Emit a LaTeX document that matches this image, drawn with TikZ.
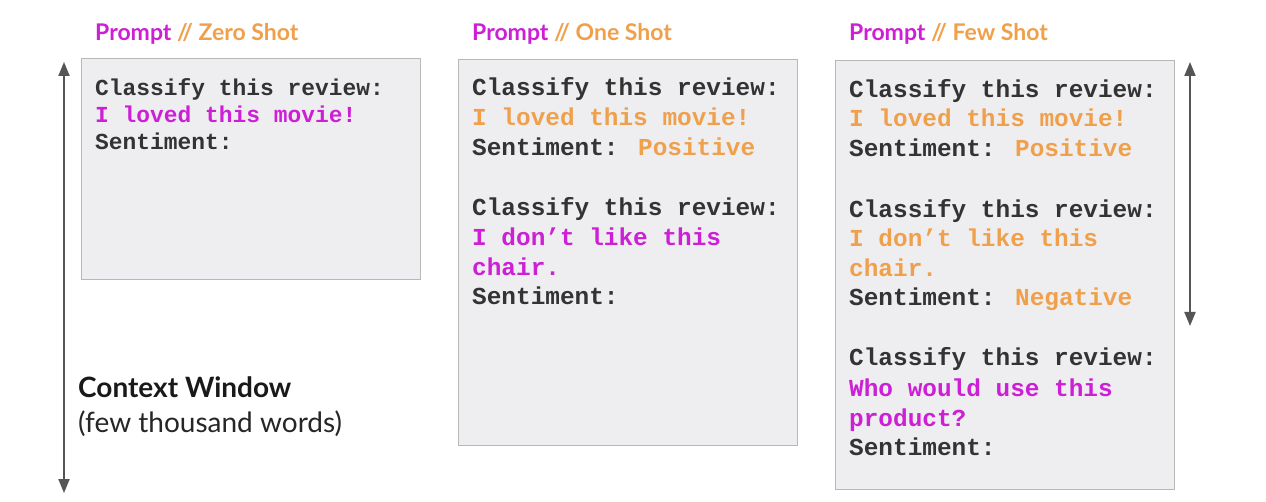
\documentclass[tikz,border=0pt]{standalone}
\usepackage{fontspec}
\setmainfont{Lato}
\newfontfamily\codefont{Liberation Mono}
\usetikzlibrary{arrows.meta}
\definecolor{mag}{HTML}{CC1FD6}
\definecolor{org}{HTML}{F0A04B}
\definecolor{boxfill}{HTML}{EEEEF0}
\definecolor{boxline}{HTML}{B8B8B8}
\definecolor{ink}{HTML}{333333}
\definecolor{arr}{HTML}{555555}
\tikzset{
  panel/.style={draw=boxline, line width=1.2pt, fill=boxfill},
  hdr/.style={anchor=base west, inner sep=0pt, font=\fontsize{23}{26}\selectfont\bfseries},
  codeA/.style={anchor=base west, inner sep=0pt, font=\codefont\bfseries\fontsize{22.9}{27}\selectfont, text=ink},
  codeB/.style={anchor=base west, inner sep=0pt, font=\codefont\bfseries\fontsize{24.4}{30}\selectfont, text=ink},
  bigarrow/.style={draw=arr, line width=2pt, {Triangle[length=14pt,width=11pt]}-{Triangle[length=14pt,width=11pt]}}
}
\begin{document}
\begin{tikzpicture}[x=1pt,y=-1pt]
\useasboundingbox[fill=white] (0,0) rectangle (1266,502);
% panels
\node[panel, minimum width=339pt, minimum height=221pt, anchor=north west, inner sep=0pt] (p1) at (81,58) {};
\node[panel, minimum width=339pt, minimum height=386pt, anchor=north west, inner sep=0pt] (p2) at (458,59) {};
\node[panel, minimum width=339pt, minimum height=429pt, anchor=north west, inner sep=0pt] (p3) at (835,60) {};
% headers
\node[hdr] (h1) at (95,41) {\textcolor{mag}{Prompt} \textcolor{org}{// Zero Shot}};
\node[hdr] (h2) at (472,41) {\textcolor{mag}{Prompt} \textcolor{org}{// One Shot}};
\node[hdr] (h3) at (849,41) {\textcolor{mag}{Prompt} \textcolor{org}{// Few Shot}};
% panel 1
\node[codeA] (a1) at (95,96) {Classify this review:};
\node[codeA, text=mag] (a2) at (95,123) {I loved this movie!};
\node[codeA] (a3) at (95,150) {Sentiment:};
% panel 2
\node[codeB] (b1) at (472,96) {Classify this review:};
\node[codeB, text=org] (b2) at (472,126) {I loved this movie!};
\node[codeB] (b3) at (472,156) {Sentiment: \textcolor{org}{Positive}};
\node[codeB] (b4) at (472,216) {Classify this review:};
\node[codeB, text=mag] (b5) at (472,246) {I don’t like this};
\node[codeB, text=mag] (b6) at (472,276) {chair.};
\node[codeB] (b7) at (472,305) {Sentiment:};
% panel 3
\node[codeB] (c1) at (849,98) {Classify this review:};
\node[codeB, text=org] (c2) at (849,127) {I loved this movie!};
\node[codeB] (c3) at (849,157) {Sentiment: \textcolor{org}{Positive}};
\node[codeB] (c4) at (849,218) {Classify this review:};
\node[codeB, text=org] (c5) at (849,247) {I don’t like this};
\node[codeB, text=org] (c6) at (849,277) {chair.};
\node[codeB] (c7) at (849,306) {Sentiment: \textcolor{org}{Negative}};
\node[codeB] (c8) at (849,366) {Classify this review:};
\node[codeB, text=mag] (c9) at (849,396) {Who would use this};
\node[codeB, text=mag] (c10) at (849,426) {product?};
\node[codeB] (c11) at (849,455) {Sentiment:};
% context window
\node[anchor=base west, inner sep=0pt, font=\fontsize{28}{32}\selectfont\bfseries, text=black!90] (cw) at (78,398) {Context Window};
\node[anchor=base west, inner sep=0pt, font=\fontsize{28}{32}\selectfont, text=black!85] (cw2) at (78,432) {(few thousand words)};
% arrows
\coordinate (la) at (64,62);
\coordinate (lb) at (64,493);
\coordinate (ra) at (1190,62);
\coordinate (rb) at (1190,326);
\draw[bigarrow] (la) -- (lb);
\draw[bigarrow] (ra) -- (rb);
\end{tikzpicture}
\end{document}
